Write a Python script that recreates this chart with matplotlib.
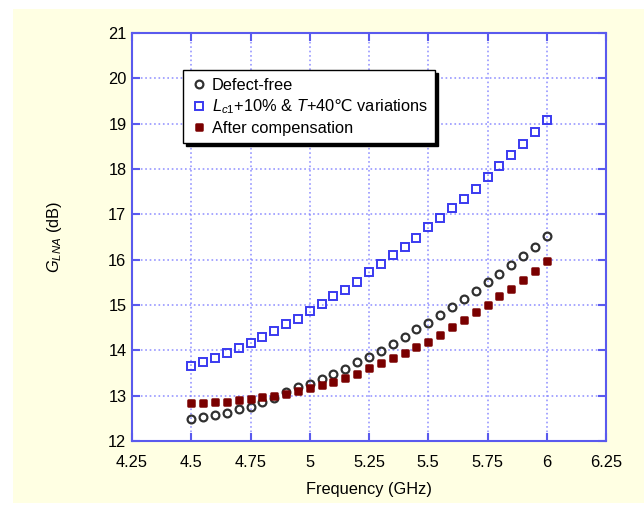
import numpy as np
import matplotlib
matplotlib.use("Agg")
import matplotlib.pyplot as plt
from matplotlib.patches import Rectangle
from matplotlib.markers import MarkerStyle

plt.rcParams['font.family'] = ['Liberation Sans', 'DejaVu Sans']
plt.rcParams['mathtext.fontset'] = 'custom'
plt.rcParams['mathtext.rm'] = 'Liberation Sans'
plt.rcParams['mathtext.it'] = 'Liberation Sans:italic'
# the degree-Celsius sign is not in Liberation Sans; take it from a CJK font
plt.rcParams['mathtext.sf'] = 'Noto Sans CJK SC'

# data
freq = [4.5, 4.55, 4.6, 4.65, 4.7, 4.75, 4.8, 4.85, 4.9, 4.95,
        5.0, 5.05, 5.1, 5.15, 5.2, 5.25, 5.3, 5.35, 5.4, 5.45,
        5.5, 5.55, 5.6, 5.65, 5.7, 5.75, 5.8, 5.85, 5.9, 5.95, 6.0]
defect_free = [12.48, 12.52, 12.57, 12.62, 12.71, 12.76, 12.85, 12.94, 13.07, 13.19,
               13.26, 13.36, 13.48, 13.59, 13.74, 13.86, 13.99, 14.13, 14.29, 14.47,
               14.60, 14.78, 14.95, 15.13, 15.31, 15.51, 15.69, 15.89, 16.08, 16.29, 16.53]
variations = [13.66, 13.75, 13.82, 13.94, 14.05, 14.17, 14.29, 14.42, 14.58, 14.69,
              14.87, 15.02, 15.20, 15.33, 15.50, 15.72, 15.90, 16.10, 16.29, 16.48,
              16.71, 16.92, 17.14, 17.34, 17.56, 17.83, 18.06, 18.30, 18.56, 18.82, 19.08]
compensated = [12.83, 12.83, 12.85, 12.87, 12.90, 12.93, 12.96, 12.99, 13.03, 13.10,
               13.16, 13.24, 13.31, 13.38, 13.48, 13.60, 13.71, 13.83, 13.95, 14.08,
               14.19, 14.34, 14.51, 14.67, 14.85, 15.01, 15.19, 15.36, 15.55, 15.76, 15.97]
xticks = [4.25, 4.5, 4.75, 5, 5.25, 5.5, 5.75, 6, 6.25]
xticklabels = ['4.25', '4.5', '4.75', '5', '5.25', '5.5', '5.75', '6', '6.25']
yticks = list(range(12, 22))

blue = '#5a5aee'
fig = plt.figure(figsize=(6.44, 5.05), dpi=100)
fig.patch.set_facecolor('white')
# pale yellow panel behind the plot
fig.patches.append(Rectangle((13/644, 2/505), 631/644, 494/505, transform=fig.transFigure,
                             facecolor='#ffffe3', edgecolor='none', zorder=-10))

ax = fig.add_axes([132/644, 1 - 441/505, 474/644, 408/505])
ax.set_facecolor('white')

ax.plot(freq, defect_free, linestyle='none', marker='o', markersize=5.6,
        markerfacecolor='none', markeredgecolor='#303030', markeredgewidth=1.6,
        label='Defect-free', zorder=3)
ax.plot(freq, variations, linestyle='none', marker='s', markersize=5.2,
        markerfacecolor='none', markeredgecolor='#3a3af0', markeredgewidth=1.4,
        label=r'$L_{c1}\mathit{+10\%}$ & $T$+40$\mathsf{℃}$ variations', zorder=3)
ax.plot(freq, compensated, linestyle='none', marker=MarkerStyle('s', joinstyle='round'),
        markersize=4.6, markerfacecolor='#7a0000', markeredgecolor='#7a0000',
        markeredgewidth=1.8, label='After compensation', zorder=4)

ax.set_xlim(4.25, 6.25)
ax.set_ylim(12, 21)
ax.set_xticks(xticks)
ax.set_xticklabels(xticklabels)
ax.set_yticks(yticks)
ax.grid(True, color='#7d7dff', linestyle=':', linewidth=1.2, alpha=0.8)
ax.set_axisbelow(True)
for s in ax.spines.values():
    s.set_color(blue)
    s.set_linewidth(1.5)
ax.tick_params(direction='in', length=6, width=1.5, color=blue, labelsize=11.8,
               top=True, right=True)
ax.tick_params(axis='x', pad=10)
ax.tick_params(axis='y', pad=4)

ax.set_xlabel('Frequency (GHz)', fontsize=11.8, labelpad=9)
ax.set_ylabel(r'$G_{LNA}$ (dB)', fontsize=11.8, labelpad=32)

leg = ax.legend(loc='upper left', bbox_to_anchor=(0.108, 0.909), fontsize=11.8,
                fancybox=False, shadow={'color': 'black', 'alpha': 1},
                framealpha=1, edgecolor='black', borderpad=0.45,
                handletextpad=0.3, handlelength=1.0, labelspacing=0.3,
                borderaxespad=0)
leg.get_frame().set_linewidth(1.0)

fig.savefig('out.png', dpi=100, facecolor=fig.get_facecolor())
